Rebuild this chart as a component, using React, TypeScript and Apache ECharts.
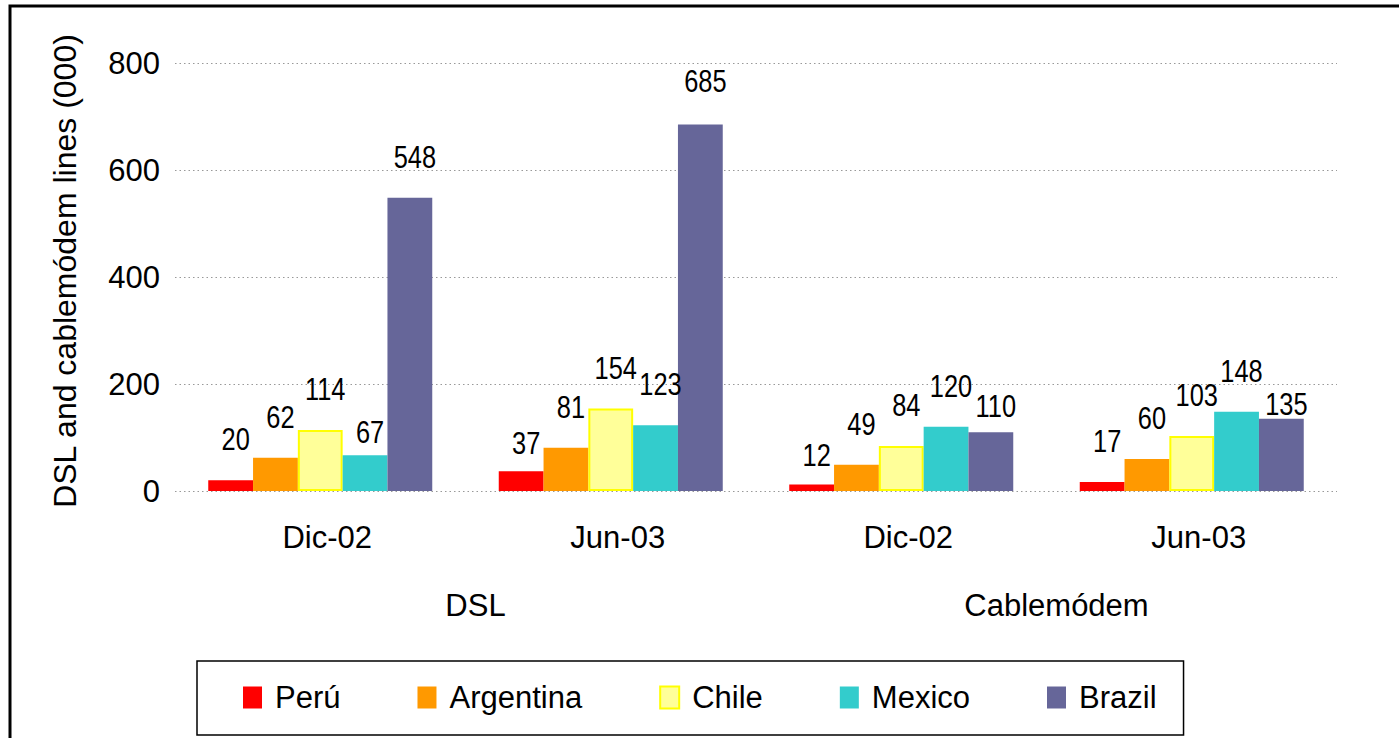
import React, { useEffect, useRef } from "react";
import * as echarts from "echarts";

const categories = ["Dic-02", "Jun-03", "Dic-02", "Jun-03"];
const groups = ["DSL", "Cablemódem"];
const countries = ["Perú", "Argentina", "Chile", "Mexico", "Brazil"];
const peru = [20, 37, 12, 17];
const argentina = [62, 81, 49, 60];
const chile = [114, 154, 84, 103];
const mexico = [67, 123, 120, 148];
const brazil = [548, 685, 110, 135];
const yTicks = { min: 0, max: 800, interval: 200 };
const yTitle = "DSL and cablemódem lines (000)";

// style: colours, bar width, label lift and per-label downward nudges (px)
const colors = ["#FF0000", "#FF9900", "#FFFF99", "#33CCCC", "#666699"];
const BAR_W = 44.8;
const LABEL_LIFT = 41;
const labelNudge: number[][] = [
  [0, 13, 11, 0],
  [0, 0, 0, 0],
  [0, 0, 0, 0],
  [18, 0, 0, 0],
  [0, -2, 15, 26],
];

const SANS = "'Liberation Sans', Arial, sans-serif";

export default function App() {
  const ref = useRef<HTMLDivElement>(null);
  useEffect(() => {
    const chart = echarts.init(ref.current!, null, { renderer: "svg" });
    const seriesData = [peru, argentina, chile, mexico, brazil];
    const mkSeries = (i: number) => ({
      name: countries[i],
      type: "bar",
      data: seriesData[i],
      barWidth: BAR_W,
      barGap: "0%",
      itemStyle:
        i === 2
          ? { color: colors[i], borderColor: "#FFFF00", borderWidth: 2 }
          : { color: colors[i] },
    });
    const labelData: number[][] = [];
    seriesData.forEach((arr, s) => arr.forEach((v, c) => labelData.push([c, v, s])));
    chart.setOption({
      animation: false,
      backgroundColor: "#fff",
      grid: { left: 175, right: 62, top: 63, bottom: 247, containLabel: false },
      xAxis: [
        {
          type: "category",
          data: categories,
          axisLine: { show: false },
          axisTick: { show: false },
          axisLabel: {
            fontFamily: SANS,
            fontSize: 31,
            color: "#000",
            margin: 31,
            padding: [0, 0, 0, 14],
          },
        },
        {
          type: "category",
          data: groups,
          position: "bottom",
          offset: 68,
          axisLine: { show: false },
          axisTick: { show: false },
          axisLabel: {
            fontFamily: SANS,
            fontSize: 31,
            color: "#000",
            margin: 31,
            padding: [0, 0, 0, 20],
          },
        },
      ],
      yAxis: {
        type: "value",
        min: yTicks.min,
        max: yTicks.max,
        interval: yTicks.interval,
        name: yTitle,
        nameLocation: "middle",
        nameGap: 94,
        nameTextStyle: {
          fontFamily: SANS,
          fontSize: 32,
          color: "#000",
          padding: [0, 0, 0, 12],
        },
        axisLine: { show: false },
        axisTick: { show: false },
        axisLabel: { fontFamily: SANS, fontSize: 31, color: "#000", margin: 15 },
        splitLine: { lineStyle: { color: "#999", width: 1.2, type: [1.5, 3] } },
      },
      legend: {
        left: 197,
        top: 661,
        orient: "horizontal",
        borderColor: "#000",
        borderWidth: 1.5,
        padding: [21, 27, 22, 46],
        itemGap: 77,
        itemWidth: 19,
        itemHeight: 22,
        icon: "rect",
        textStyle: {
          fontFamily: SANS,
          fontSize: 31,
          color: "#000",
          lineHeight: 26,
          padding: [0, 0, 0, 8],
        },
        data: countries,
      },
      graphic: [
        {
          type: "rect",
          shape: { x: 10, y: 6, width: 1420, height: 800 },
          style: { fill: "none", stroke: "#000", lineWidth: 3 },
          silent: true,
        },
      ],
      series: [
        mkSeries(0),
        mkSeries(1),
        mkSeries(2),
        mkSeries(3),
        mkSeries(4),
        {
          type: "custom",
          silent: true,
          z: 10,
          encode: { x: 0, y: 1 },
          data: labelData,
          renderItem: (params: any, api: any) => {
            const c = api.value(0);
            const v = api.value(1);
            const s = api.value(2);
            const pt = api.coord([c, v]);
            const x = pt[0] + (s - 2) * BAR_W + 5;
            const y = pt[1] - LABEL_LIFT + labelNudge[s][c];
            return {
              type: "text",
              x,
              y,
              scaleX: 0.82,
              style: {
                text: String(v),
                fontFamily: SANS,
                fontSize: 31,
                fill: "#000",
                align: "center",
                verticalAlign: "middle",
              },
            };
          },
        },
      ],
    });
    return () => chart.dispose();
  }, []);
  return (
    <div
      ref={ref}
      style={{ position: "absolute", left: 0, top: 0, width: 1399, height: 738 }}
    />
  );
}
